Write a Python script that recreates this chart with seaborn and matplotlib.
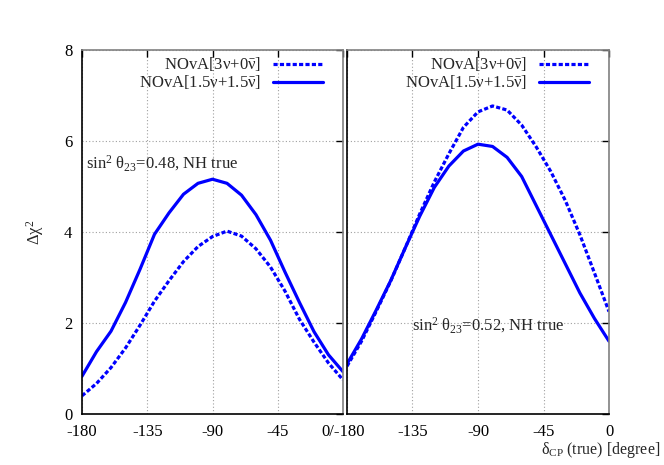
import numpy as np
import pandas as pd
import matplotlib
matplotlib.use("Agg")
import matplotlib.pyplot as plt
import seaborn as sns

# ---- data ----
delta = [-180, -170, -160, -150, -140, -130, -120, -110, -100, -90,
         -80, -70, -60, -50, -40, -30, -20, -10, 0]

left_3_0 = [0.40, 0.67, 1.02, 1.45, 1.95, 2.48, 2.93, 3.35, 3.68, 3.90,
            4.02, 3.91, 3.63, 3.23, 2.70, 2.08, 1.58, 1.12, 0.75]
left_15_15 = [0.83, 1.37, 1.82, 2.45, 3.18, 3.95, 4.42, 4.83, 5.07, 5.16,
              5.07, 4.81, 4.38, 3.82, 3.12, 2.45, 1.81, 1.30, 0.93]
right_3_0 = [1.05, 1.60, 2.25, 2.92, 3.65, 4.40, 5.10, 5.72, 6.30, 6.64,
             6.77, 6.68, 6.35, 5.87, 5.33, 4.69, 3.94, 3.10, 2.25]
right_15_15 = [1.10, 1.65, 2.28, 2.93, 3.65, 4.35, 4.98, 5.45, 5.78, 5.93,
               5.88, 5.64, 5.22, 4.58, 3.94, 3.30, 2.66, 2.10, 1.60]

series_labels = [r"NOvA[3$\nu$+0$\bar{\nu}$]",
                 r"NOvA[1.5$\nu$+1.5$\bar{\nu}$]"]
annotations = [r"sin$^2$ $\theta_{23}$=0.48, NH true",
               r"sin$^2$ $\theta_{23}$=0.52, NH true"]
xticks = [-180, -135, -90, -45, 0]
yticks = [0, 2, 4, 6, 8]

# ---- style ----
sns.set_style("white")
plt.rcParams["font.family"] = ["Liberation Serif", "DejaVu Serif"]
plt.rcParams["mathtext.fontset"] = "custom"
plt.rcParams["mathtext.rm"] = "Liberation Serif"
plt.rcParams["mathtext.it"] = "Liberation Serif"
plt.rcParams["mathtext.bf"] = "Liberation Serif:bold"
plt.rcParams["mathtext.sf"] = "Liberation Serif"

FS = 12

fig = plt.figure(figsize=(6.64, 4.65), dpi=100)
W, H = 664, 465
bottom = (H - 414) / H
height = 364 / H
axL = fig.add_axes([82 / W, bottom, 261 / W, height])
axR = fig.add_axes([347 / W, bottom, 262 / W, height])

blue = "#0000ff"
dotted = (0, (1.3, 0.7))

panels = [(axL, left_3_0, left_15_15), (axR, right_3_0, right_15_15)]
for ax, s30, s1515 in panels:
    df = pd.DataFrame({"delta": delta, "a": s30, "b": s1515})
    sns.lineplot(data=df, x="delta", y="a", ax=ax, color=blue, lw=2.3,
                 linestyle=dotted, label=series_labels[0])
    sns.lineplot(data=df, x="delta", y="b", ax=ax, color=blue, lw=2.3,
                 label=series_labels[1])
    ax.set_xlim(-180, 0)
    ax.set_ylim(0, 8)
    ax.set_xticks(xticks)
    ax.set_yticks(yticks)
    ax.grid(True, linestyle=(0, (1, 2)), color="#a0a0a0", lw=0.8)
    ax.tick_params(direction="in", length=5, width=1, top=True, right=True,
                   labelsize=FS, pad=7, colors="black")
    ax.set_xlabel("")
    ax.set_ylabel("")
    for side in ["left", "bottom"]:
        ax.spines[side].set_color("black")
        ax.spines[side].set_linewidth(1.2)
    for side in ["top", "right"]:
        ax.spines[side].set_color("#808080")
        ax.spines[side].set_linewidth(1.2)
    leg = ax.legend(loc="upper right", bbox_to_anchor=(0.923, 0.985),
                    frameon=False, markerfirst=False, fontsize=FS,
                    handlelength=3.0, handletextpad=0.7, labelspacing=0.0,
                    borderaxespad=0, borderpad=0)

axL.set_xticklabels(["-180", "-135", "-90", "-45", "0/-180"])
axR.set_xticklabels(["", "-135", "-90", "-45", "0"])
axR.set_yticklabels([])

axL.text(-177, 5.52, annotations[0], fontsize=FS, ha="left", va="center")
axR.text(-135.5, 1.96, annotations[1], fontsize=FS, ha="left", va="center")

fig.text(35 / W, 1 - 232 / H, r"$\Delta\chi^2$", rotation=90, fontsize=FS,
         ha="center", va="center")
fig.text(660 / W, 1 - 450 / H, r"$\delta_{\mathrm{CP}}$ (true) [degree]",
         fontsize=11.5, ha="right", va="center")

fig.savefig("out.png", dpi=100)
